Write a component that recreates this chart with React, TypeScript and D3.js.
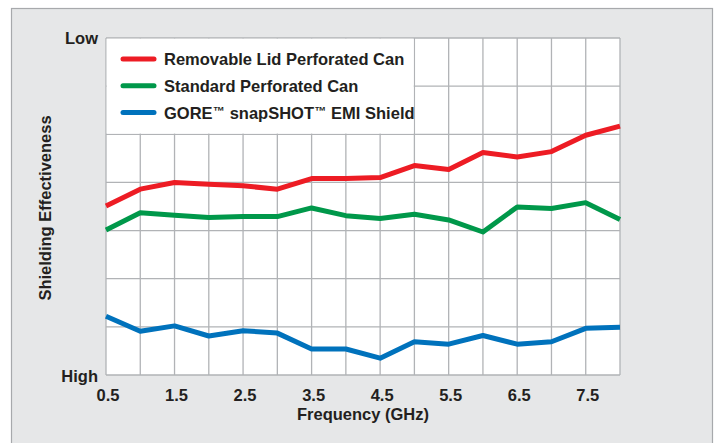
import React from "react";
import * as d3 from "d3";

const frequencies = [0.5, 1.0, 1.5, 2.0, 2.5, 3.0, 3.5, 4.0, 4.5, 5.0, 5.5, 6.0, 6.5, 7.0, 7.5, 8.0];
const removableLid = [3.51, 3.86, 4.0, 3.96, 3.93, 3.86, 4.08, 4.08, 4.1, 4.35, 4.27, 4.62, 4.53, 4.64, 4.98, 5.17];
const standardCan = [3.01, 3.37, 3.32, 3.27, 3.29, 3.29, 3.47, 3.31, 3.25, 3.34, 3.22, 2.97, 3.49, 3.46, 3.58, 3.23];
const goreShield = [1.22, 0.91, 1.02, 0.81, 0.92, 0.87, 0.54, 0.54, 0.35, 0.69, 0.64, 0.82, 0.64, 0.69, 0.97, 0.99];
const xTickLabels = ["0.5", "1.5", "2.5", "3.5", "4.5", "5.5", "6.5", "7.5"];
const yGridValues = [0, 1, 2, 3, 4, 5, 6, 7];
const seriesNames = ["Removable Lid Perforated Can", "Standard Perforated Can", "GORE\u2122 snapSHOT\u2122 EMI Shield"];
const seriesColors = ["#ed1c24", "#00984a", "#0072bc"];

const W = 717;
const H = 443;
const plot = { left: 106, right: 620, top: 38, bottom: 375 };
const FONT = "'Liberation Sans Narrow', 'Arial Narrow', sans-serif";
const TEXT = "#231f20";

function LabelText({ text }: { text: string }) {
  const parts = text.split("\u2122");
  const nodes: React.ReactNode[] = [];
  parts.forEach((p, i) => {
    nodes.push(
      <tspan key={"p" + i} dy={i > 0 ? 4 : 0}>
        {p}
      </tspan>
    );
    if (i < parts.length - 1) {
      nodes.push(
        <tspan key={"tm" + i} fontSize={12} dx={0.5} dy={-4}>
          {"\u2122"}
        </tspan>
      );
    }
  });
  return <>{nodes}</>;
}

export default function App() {
  const x = d3.scaleLinear().domain([0.5, 8]).range([plot.left, plot.right]);
  const y = d3.scaleLinear().domain([0, 7]).range([plot.bottom, plot.top]);
  const line = d3
    .line<number>()
    .x((_, i) => x(frequencies[i]))
    .y((d) => y(d));
  const allSeries = [removableLid, standardCan, goreShield];
  const xGrid = d3.range(0.5, 8.01, 0.5);

  return (
    <div style={{ position: "fixed", left: 0, top: 0, width: W, height: H, background: "#fff" }}>
      <svg width={W} height={H} style={{ display: "block" }}>
        <rect x={11.5} y={8.5} width={701} height={460} fill="#e6e7e8" stroke="#a7a9ac" strokeWidth={1.2} />
        <rect x={plot.left} y={plot.top} width={plot.right - plot.left} height={plot.bottom - plot.top} fill="#fff" />
        {xGrid.map((v, i) => (
          <line key={"vx" + i} x1={x(v)} x2={x(v)} y1={plot.top} y2={plot.bottom} stroke="#b1b3b6" strokeWidth={1.3} />
        ))}
        {yGridValues.map((v) => (
          <line key={"hy" + v} x1={plot.left} x2={plot.right} y1={y(v)} y2={y(v)} stroke="#b1b3b6" strokeWidth={1.3} />
        ))}
        <rect x={x(0.5) + 0.7} y={y(7) + 0.7} width={x(5) - x(0.5) - 1.4} height={y(5) - y(7) - 1.4} fill="#fff" />
        {allSeries.map((s, i) => (
          <path
            key={"s" + i}
            d={line(s) || ""}
            fill="none"
            stroke={seriesColors[i]}
            strokeWidth={5}
            strokeLinejoin="round"
            strokeLinecap="butt"
          />
        ))}
        {seriesNames.map((name, i) => (
          <g key={"lg" + i}>
            <line
              x1={123}
              x2={154}
              y1={59 + i * 26.8}
              y2={59 + i * 26.8}
              stroke={seriesColors[i]}
              strokeWidth={5}
              strokeLinecap="round"
            />
            <text x={164} y={65 + i * 26.8} fontFamily={FONT} fontWeight="bold" fontSize={16.5} fill={TEXT}>
              <LabelText text={name} />
            </text>
          </g>
        ))}
        <text x={98} y={44} textAnchor="end" fontFamily={FONT} fontWeight="bold" fontSize={16.5} fill={TEXT}>
          Low
        </text>
        <text x={98} y={382} textAnchor="end" fontFamily={FONT} fontWeight="bold" fontSize={16.5} fill={TEXT}>
          High
        </text>
        {xTickLabels.map((t) => (
          <text key={t} x={x(+t) + 2} y={401} textAnchor="middle" fontFamily={FONT} fontWeight="bold" fontSize={16.5} fill={TEXT}>
            {t}
          </text>
        ))}
        <text x={363} y={420} textAnchor="middle" fontFamily={FONT} fontWeight="bold" fontSize={16.5} fill={TEXT}>
          Frequency (GHz)
        </text>
        <text
          transform={`translate(51, 208) rotate(-90)`}
          textAnchor="middle"
          fontFamily={FONT}
          fontWeight="bold"
          fontSize={16.5}
          fill={TEXT}
        >
          Shielding Effectiveness
        </text>
      </svg>
    </div>
  );
}
